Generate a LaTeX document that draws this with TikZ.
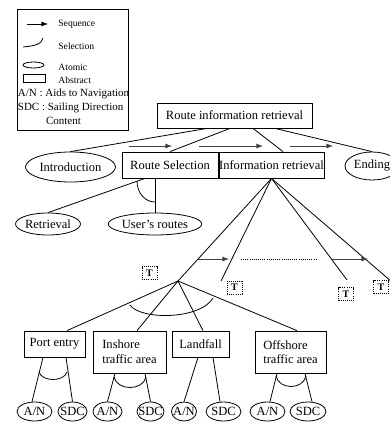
\documentclass[tikz,border=0pt]{standalone}
\usepackage{fontspec}
\setmainfont{Liberation Serif}
\usetikzlibrary{arrows,calc,shapes.geometric}

\begin{document}
\begin{tikzpicture}[
    x=0.75pt, y=-0.75pt,
    line width=0.6pt,
    every node/.style={inner sep=0pt, font=\fontsize{9.4}{11}\selectfont},
    abstract/.style={rectangle, draw, minimum height=19.5pt, align=center},
    atomic/.style={ellipse, draw, minimum height=22.5pt},
    leaf/.style={ellipse, draw, minimum height=14.25pt},
    legendtext/.style={anchor=west, font=\fontsize{7.2}{8}\selectfont},
    notetext/.style={anchor=west, font=\fontsize{8.25}{10}\selectfont},
    tmark/.style={rectangle, draw, densely dotted, minimum width=11.25pt, minimum height=9.75pt, font=\fontsize{7.5}{8}\selectfont\bfseries},
    arrow/.style={-latex, line width=0.7pt, black!75}
]
\useasboundingbox (0,0) rectangle (389,424);

% Legend
\node[draw, minimum width=83.25pt, minimum height=90.75pt] (legend) at (72.5,69.5) {};
\coordinate (key_seq_a) at (27,24);
\coordinate (key_seq_b) at (48,24);
\coordinate (key_sel_a) at (23,47);
\coordinate (key_sel_b) at (43,38);
\draw[arrow, black] (key_seq_a) -- (key_seq_b);
\draw (key_sel_a) .. controls (35,46) and (42,44) .. (key_sel_b);
\node[draw, ellipse, minimum width=15.75pt, minimum height=4.5pt] (key_atomic) at (33.5,65) {};
\node[draw, minimum width=16.5pt, minimum height=5.6pt] (key_abstract) at (34.5,78.5) {};
\node[legendtext] (key_seq_text) at (58,24) {Sequence};
\node[legendtext] (key_sel_text) at (58,46) {Selection};
\node[legendtext] (key_atomic_text) at (58,67) {Atomic};
\node[legendtext] (key_abstract_text) at (58,80) {Abstract};
\node[notetext] (note_an) at (17.5,94) {A/N : Aids to Navigation};
\node[notetext] (note_sdc) at (17.5,108) {SDC : Sailing Direction};
\node[notetext, anchor=center] (note_content) at (63.5,121) {Content};

% Top level
\node[abstract, minimum width=116.25pt, minimum height=18.75pt] (route_info) at (234.5,115.5) {Route information retrieval};
\node[atomic, minimum width=67.5pt] (introduction) at (70.5,167) {Introduction};
\node[abstract, minimum width=72pt] (route_selection) at (170,165) {Route Selection};
\node[abstract, minimum width=78.75pt] (info_retrieval) at (271.5,165) {Information retrieval};
\node[atomic, minimum width=40.5pt, minimum height=21pt] (ending) at (372,166) {Ending};

\draw ($(route_info.south)+(-27.5,0)$) -- (introduction.north);
\draw ($(route_info.south)+(-4.5,0)$) -- (route_selection.north);
\draw ($(route_info.south)+(18.5,0)$) -- ($(info_retrieval.north)+(11.5,0)$);
\draw ($(route_info.south)+(40.5,0)$) -- (ending.north);

% Sequence of top level
\coordinate (seq1_a) at (129,146);
\coordinate (seq1_b) at (172,146);
\coordinate (seq2_a) at (199,146);
\coordinate (seq2_b) at (263,146);
\coordinate (seq3_a) at (290,146);
\coordinate (seq3_b) at (333,146);
\draw[arrow] (seq1_a) -- (seq1_b);
\draw[arrow] (seq2_a) -- (seq2_b);
\draw[arrow] (seq3_a) -- (seq3_b);

% Route selection
\node[atomic, minimum width=46.5pt, minimum height=16.5pt] (retrieval) at (48,224) {Retrieval};
\node[atomic, minimum width=69pt, minimum height=16.5pt] (users_routes) at (155,224) {User's routes};
\draw ($(route_selection.south)+(-25,0)$) -- (retrieval.north);
\draw ($(route_selection.south)+(-15,0)$) -- (users_routes.north);
\draw (137,181) .. controls (137,193) and (145,202) .. (155,202);

% Information retrieval
\coordinate (area_top) at (178,281);
\coordinate (item_b) at (221,281);
\coordinate (item_c) at (347,280);
\coordinate (item_d) at (392,282);
\draw (info_retrieval.south) -- (area_top);
\draw (info_retrieval.south) -- (item_b);
\draw (info_retrieval.south) -- (item_c);
\draw (info_retrieval.south) -- (item_d);

\coordinate (seq4_a) at (197,259);
\coordinate (seq4_b) at (229,259);
\coordinate (dots_a) at (241,259);
\coordinate (dots_b) at (317,259);
\coordinate (seq5_a) at (332,259);
\coordinate (seq5_b) at (368,259);
\draw[arrow] (seq4_a) -- (seq4_b);
\draw[densely dotted] (dots_a) -- (dots_b);
\draw[arrow] (seq5_a) -- (seq5_b);

\node[tmark] (t_a) at (149.5,273) {T};
\node[tmark] (t_b) at (234.5,287.5) {T};
\node[tmark] (t_c) at (346,294) {T};
\node[tmark] (t_d) at (381,287) {T};

% Areas
\node[abstract, minimum width=45.75pt] (port_entry) at (54.5,344) {Port entry};
\node[abstract, minimum width=54.75pt, minimum height=31.5pt, align=left] (inshore) at (129.5,352) {Inshore\\traffic area};
\node[abstract, minimum width=42.75pt] (landfall) at (200.5,344) {Landfall};
\node[abstract, minimum width=53.25pt, minimum height=31.5pt, align=left] (offshore) at (290.5,352) {Offshore\\traffic area};

\draw (area_top) -- ($(port_entry.north)+(12.5,0)$);
\draw (area_top) -- ($(inshore.north)+(7.5,0)$);
\draw (area_top) -- ($(landfall.north)+(2.5,0)$);
\draw (area_top) -- ($(offshore.north)+(6.5,0)$);
\draw (130,305) .. controls (140,320) and (200,320) .. (213,298);

% Leaves
\node[leaf, minimum width=26.25pt] (an_port) at (34.5,411.5) {\makebox[0pt]{A/N}};
\node[leaf, minimum width=21.75pt] (sdc_port) at (72.5,411.5) {\makebox[0pt]{SDC}};
\node[leaf, minimum width=21.75pt] (an_inshore) at (107.5,411.5) {\makebox[0pt]{A/N}};
\node[leaf, minimum width=20.25pt] (sdc_inshore) at (150.5,411.5) {\makebox[0pt]{SDC}};
\node[leaf, minimum width=18.75pt] (an_landfall) at (184,411.5) {\makebox[0pt]{A/N}};
\node[leaf, minimum width=26.25pt] (sdc_landfall) at (223.5,411.5) {\makebox[0pt]{SDC}};
\node[leaf, minimum width=26.25pt] (an_offshore) at (267.5,411.5) {\makebox[0pt]{A/N}};
\node[leaf, minimum width=27pt] (sdc_offshore) at (308,411.5) {\makebox[0pt]{SDC}};

\draw ($(port_entry.south)+(-11.5,0)$) -- ($(an_port.north)+(-2.5,0)$);
\draw ($(port_entry.south)+(11.5,0)$) -- (sdc_port.north);
\draw (39,372) .. controls (42,382) and (64,382) .. (67,372);

\draw ($(inshore.south)+(-14.5,0)$) -- (an_inshore.north);
\draw ($(inshore.south)+(15.5,0)$) -- (sdc_inshore.north);
\draw (114,377) .. controls (117,391) and (143,391) .. (146,377);

\draw ($(landfall.south)+(-2.5,0)$) -- (an_landfall.north);
\draw ($(landfall.south)+(12.5,0)$) -- ($(sdc_landfall.north)+(-3.5,0)$);

\draw ($(offshore.south)+(-13.5,0)$) -- ($(an_offshore.north)+(2.5,0)$);
\draw ($(offshore.south)+(14.5,0)$) -- ($(sdc_offshore.north)+(4,0)$);
\draw (276,376) .. controls (279,390) and (303,390) .. (306,376);

\end{tikzpicture}
\end{document}
